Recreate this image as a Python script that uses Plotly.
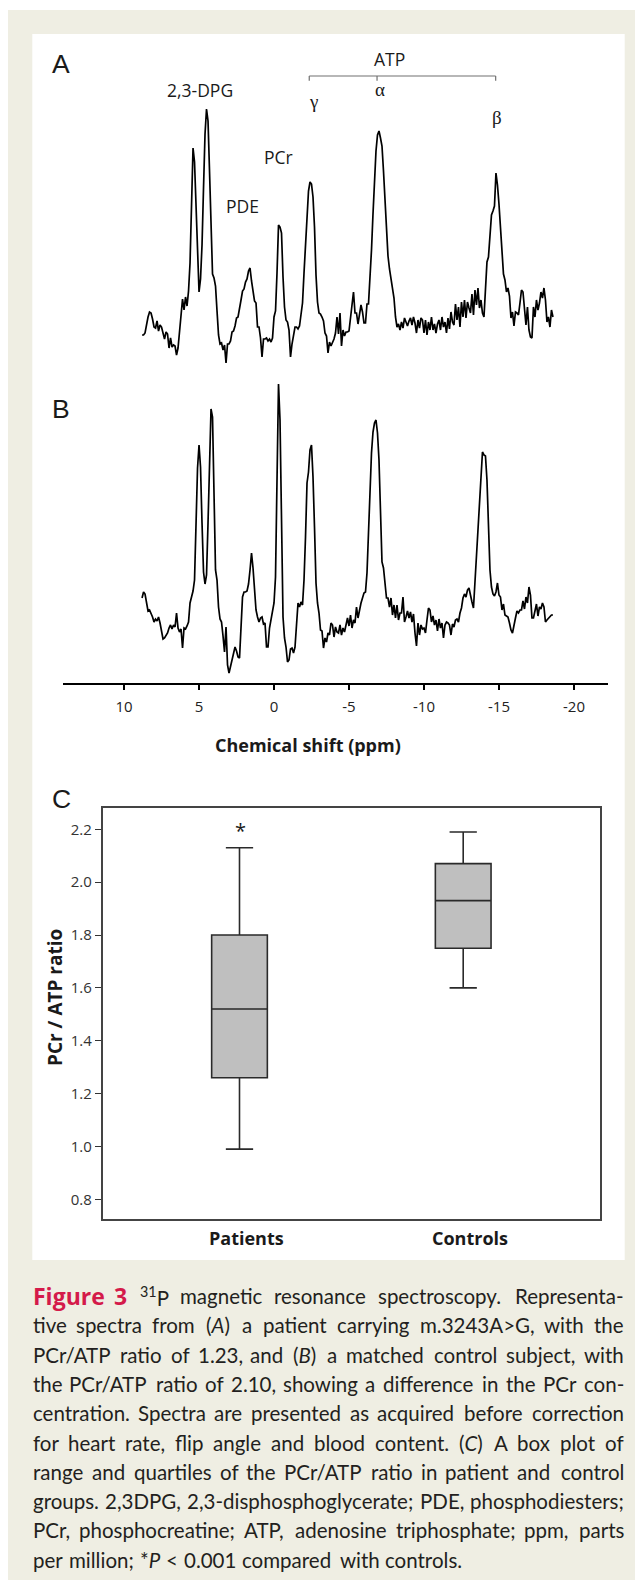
import re
import plotly.graph_objects as go

# page is drawn with an 8px body margin, so the figure is sized to fit the window
W, H = 635, 1575
OFF = 8

# ---------------- data ----------------
# chemical shift grid (ppm) shared by both spectra
ppm = [
    8.8, 8.7, 8.6, 8.5, 8.4, 8.3, 8.2, 8.1, 8.0, 7.9,
    7.8, 7.7, 7.6, 7.5, 7.4, 7.3, 7.2, 7.1, 7.0, 6.9,
    6.8, 6.7, 6.6, 6.5, 6.4, 6.3, 6.2, 6.1, 6.0, 5.9,
    5.8, 5.7, 5.6, 5.5, 5.4, 5.3, 5.2, 5.1, 5.0, 4.9,
    4.8, 4.7, 4.6, 4.5, 4.4, 4.3, 4.2, 4.1, 4.0, 3.9,
    3.8, 3.7, 3.6, 3.5, 3.4, 3.3, 3.2, 3.1, 3.0, 2.9,
    2.8, 2.7, 2.6, 2.5, 2.4, 2.3, 2.2, 2.1, 2.0, 1.9,
    1.8, 1.7, 1.6, 1.5, 1.4, 1.3, 1.2, 1.1, 1.0, 0.9,
    0.8, 0.7, 0.6, 0.5, 0.4, 0.3, 0.2, 0.1, 0.0, -0.1,
    -0.2, -0.3, -0.4, -0.5, -0.6, -0.7, -0.8, -0.9, -1.0, -1.1,
    -1.2, -1.3, -1.4, -1.5, -1.6, -1.7, -1.8, -1.9, -2.0, -2.1,
    -2.2, -2.3, -2.4, -2.5, -2.6, -2.7, -2.8, -2.9, -3.0, -3.1,
    -3.2, -3.3, -3.4, -3.5, -3.6, -3.7, -3.8, -3.9, -4.0, -4.1,
    -4.2, -4.3, -4.4, -4.5, -4.6, -4.7, -4.8, -4.9, -5.0, -5.1,
    -5.2, -5.3, -5.4, -5.5, -5.6, -5.7, -5.8, -5.9, -6.0, -6.1,
    -6.2, -6.3, -6.4, -6.5, -6.6, -6.7, -6.8, -6.9, -7.0, -7.1,
    -7.2, -7.3, -7.4, -7.5, -7.6, -7.7, -7.8, -7.9, -8.0, -8.1,
    -8.2, -8.3, -8.4, -8.5, -8.6, -8.7, -8.8, -8.9, -9.0, -9.1,
    -9.2, -9.3, -9.4, -9.5, -9.6, -9.7, -9.8, -9.9, -10.0, -10.1,
    -10.2, -10.3, -10.4, -10.5, -10.6, -10.7, -10.8, -10.9, -11.0, -11.1,
    -11.2, -11.3, -11.4, -11.5, -11.6, -11.7, -11.8, -11.9, -12.0, -12.1,
    -12.2, -12.3, -12.4, -12.5, -12.6, -12.7, -12.8, -12.9, -13.0, -13.1,
    -13.2, -13.3, -13.4, -13.5, -13.6, -13.7, -13.8, -13.9, -14.0, -14.1,
    -14.2, -14.3, -14.4, -14.5, -14.6, -14.7, -14.8, -14.9, -15.0, -15.1,
    -15.2, -15.3, -15.4, -15.5, -15.6, -15.7, -15.8, -15.9, -16.0, -16.1,
    -16.2, -16.3, -16.4, -16.5, -16.6, -16.7, -16.8, -16.9, -17.0, -17.1,
    -17.2, -17.3, -17.4, -17.5, -17.6, -17.7, -17.8, -17.9, -18.0, -18.1,
    -18.2, -18.3, -18.4, -18.5, -18.6,
]

# (A) patient spectrum, signal intensity (a.u.)
patient_signal = [
    35, 35, 37, 46, 53, 58, 57, 51, 43, 42,
    49, 39, 45, 43, 36, 31, 38, 36, 22, 32,
    23, 25, 24, 15, 22, 39, 49, 71, 60, 73,
    64, 79, 107, 160, 222, 208, 167, 110, 78, 91,
    125, 182, 236, 261, 249, 199, 137, 96, 92, 84,
    59, 35, 26, 27, 20, 25, 7, 26, 26, 29,
    38, 39, 44, 52, 53, 64, 70, 79, 81, 88,
    91, 99, 102, 89, 78, 69, 67, 43, 43, 32,
    13, 31, 31, 32, 29, 31, 28, 32, 53, 59,
    97, 145, 143, 137, 93, 63, 50, 48, 40, 13,
    26, 35, 43, 43, 41, 44, 55, 67, 97, 127,
    159, 179, 188, 186, 173, 143, 95, 68, 57, 56,
    53, 49, 37, 34, 17, 28, 24, 27, 31, 37,
    53, 36, 57, 24, 40, 34, 38, 38, 39, 52,
    67, 78, 57, 57, 46, 57, 65, 58, 47, 47,
    66, 66, 90, 120, 156, 191, 219, 235, 239, 232,
    224, 199, 170, 134, 114, 101, 92, 85, 72, 53,
    43, 46, 40, 48, 42, 52, 47, 44, 49, 52,
    45, 53, 47, 37, 50, 42, 52, 50, 37, 50,
    35, 48, 40, 53, 40, 46, 37, 46, 50, 40,
    53, 43, 48, 37, 52, 41, 58, 48, 45, 66,
    50, 63, 43, 68, 53, 70, 52, 68, 62, 57,
    76, 55, 80, 65, 82, 62, 70, 57, 53, 75,
    108, 113, 137, 155, 159, 164, 197, 185, 166, 138,
    112, 96, 90, 78, 82, 74, 52, 58, 44, 58,
    57, 55, 67, 80, 78, 62, 45, 63, 40, 33,
    32, 63, 53, 70, 60, 67, 78, 72, 82, 70,
    48, 53, 43, 60, 53,
]

# (B) control spectrum, signal intensity (a.u.)
control_signal = [
    102, 108, 106, 97, 89, 90, 87, 83, 78, 81,
    79, 83, 77, 68, 61, 62, 64, 67, 72, 75,
    71, 75, 73, 87, 72, 68, 71, 52, 72, 71,
    74, 78, 97, 102, 109, 120, 167, 232, 255, 233,
    177, 128, 116, 125, 177, 252, 291, 283, 210, 130,
    120, 93, 81, 78, 64, 48, 73, 35, 27, 34,
    41, 48, 53, 49, 43, 42, 77, 103, 108, 108,
    109, 116, 130, 147, 132, 110, 90, 83, 78, 82,
    83, 76, 77, 53, 53, 72, 82, 88, 97, 123,
    217, 316, 280, 170, 83, 62, 53, 38, 40, 51,
    52, 47, 53, 75, 97, 93, 98, 95, 120, 163,
    217, 228, 250, 255, 223, 173, 117, 97, 87, 70,
    69, 52, 62, 58, 67, 65, 77, 75, 63, 73,
    68, 67, 75, 65, 72, 68, 77, 82, 74, 85,
    72, 80, 77, 93, 82, 91, 97, 102, 107, 108,
    127, 167, 220, 247, 268, 277, 280, 267, 240, 190,
    138, 132, 117, 102, 102, 93, 102, 85, 95, 82,
    95, 80, 87, 87, 103, 78, 83, 89, 82, 88,
    78, 86, 67, 54, 77, 65, 75, 71, 72, 67,
    80, 92, 90, 78, 84, 75, 80, 69, 81, 72,
    77, 62, 75, 78, 77, 75, 65, 76, 73, 80,
    81, 78, 87, 92, 102, 106, 103, 110, 112, 103,
    98, 92, 120, 142, 170, 190, 218, 248, 245, 244,
    220, 173, 130, 113, 106, 104, 108, 117, 105, 103,
    90, 96, 85, 84, 83, 77, 70, 67, 77, 82,
    89, 87, 90, 90, 99, 91, 103, 97, 113, 105,
    82, 82, 89, 96, 84, 93, 91, 97, 93, 78,
    80, 82, 83, 85, 85,
]

shift_tick_vals = [10, 5, 0, -5, -10, -15, -20]
shift_tick_text = ["10", "5", "0", "-5", "-10", "-15", "-20"]

# (C) box plot statistics of PCr/ATP ratio
groups = ["Patients", "Controls"]
ratio_min = [0.99, 1.60]
ratio_q1 = [1.26, 1.75]
ratio_median = [1.52, 1.93]
ratio_q3 = [1.80, 2.07]
ratio_max = [2.13, 2.19]
ratio_ticks = [0.8, 1.0, 1.2, 1.4, 1.6, 1.8, 2.0, 2.2]
ratio_tick_text = ["0.8", "1.0", "1.2", "1.4", "1.6", "1.8", "2.0", "2.2"]

# peak labels for spectrum A: (text, ppm, intensity)
peak_labels = [("2,3-DPG", 4.93, 280), ("PDE", 2.07, 164), ("PCr", -0.29, 213), ("ATP", -7.67, 311)]
greek_labels = [("\u03b3", -2.65, 268), ("\u03b1", -7.05, 280), ("\u03b2", -14.88, 252)]
atp_bracket = {"left": -2.35, "mid": -6.87, "right": -14.78, "top": 294, "bottom": 289.3}

CAPTION_LEAD = ["Figure", "3"]
CAPTION_LINES = [
    "<sup>31</sup>P magnetic resonance spectroscopy. Representa-",
    "tive spectra from (<i>A</i>) a patient carrying m.3243A&gt;G, with the",
    "PCr/ATP ratio of 1.23, and (<i>B</i>) a matched control subject, with",
    "the PCr/ATP ratio of 2.10, showing a difference in the PCr con-",
    "centration. Spectra are presented as acquired before correction",
    "for heart rate, flip angle and blood content. (<i>C</i>) A box plot of",
    "range and quartiles of the PCr/ATP ratio in patient and control",
    "groups. 2,3DPG, 2,3-disphosphoglycerate; PDE, phosphodiesters;",
    "PCr, phosphocreatine; ATP, adenosine triphosphate; ppm, parts",
    "per million; *<i>P</i> &lt; 0.001 compared with controls.",
]


# ---------------- helpers (page pixel -> paper fraction) ----------------
def px(x):
    return (x - OFF) / W


def py(y):
    return 1 - (y - OFF) / H


INK = "#1a1a1a"
CAP_COLOR = "#231f20"
RED = "#d41a4a"
BEIGE = "#efeee3"

fig = go.Figure()

fig.add_trace(go.Scatter(x=ppm, y=patient_signal, mode="lines", xaxis="x", yaxis="y",
                         line=dict(color="black", width=1.7), hoverinfo="skip"))
fig.add_trace(go.Scatter(x=ppm, y=control_signal, mode="lines", xaxis="x2", yaxis="y2",
                         line=dict(color="black", width=1.7), hoverinfo="skip"))
fig.add_trace(go.Box(x=[0, 1], q1=ratio_q1, median=ratio_median, q3=ratio_q3,
                     lowerfence=ratio_min, upperfence=ratio_max,
                     xaxis="x3", yaxis="y3", fillcolor="#bfbfbf",
                     line=dict(color="#2a2a2a", width=1.6), width=0.249,
                     whiskerwidth=0.49, boxpoints=False, hoverinfo="skip"))

spec_dom = [px(63), px(608)]
spec_range = [14.07, -22.27]

layout = dict(
    width=W, height=H, margin=dict(l=0, r=0, t=0, b=0),
    paper_bgcolor="white", plot_bgcolor="rgba(0,0,0,0)", showlegend=False,
    xaxis=dict(domain=spec_dom, range=spec_range, visible=False, anchor="y"),
    yaxis=dict(domain=[py(370), py(40)], range=[0, 330], visible=False, anchor="x"),
    xaxis2=dict(domain=spec_dom, range=spec_range, anchor="y2", showline=True,
                linecolor="black", linewidth=1.5, ticks="outside", ticklen=6,
                tickwidth=1.5, tickcolor="black", tickvals=shift_tick_vals,
                ticktext=shift_tick_text, showgrid=False, zeroline=False,
                ticklabelstandoff=4,
                tickfont=dict(family="Open Sans", size=15, color="#222")),
    yaxis2=dict(domain=[py(682.7), py(380)], range=[17.3, 320], visible=False, anchor="x2"),
    xaxis3=dict(domain=[px(102.7), px(600)], range=[-0.6115, 1.6115], anchor="y3",
                showline=True, mirror=True, linecolor="#444", linewidth=1.6,
                ticks="", showticklabels=False, showgrid=False, zeroline=False),
    yaxis3=dict(domain=[py(1219.3), py(808.3)], range=[0.7243, 2.2795], anchor="x3",
                showline=True, mirror=True, linecolor="#444", linewidth=1.6,
                ticks="outside", ticklen=6, tickwidth=1.3, tickcolor="#333",
                tickvals=ratio_ticks, ticktext=ratio_tick_text, showgrid=False,
                zeroline=False, tickfont=dict(family="Open Sans", size=15, color="#333")),
)
fig.update_layout(**layout)

shapes = [
    dict(type="rect", xref="paper", yref="paper", x0=px(8), x1=1, y0=py(1580), y1=py(10),
         fillcolor=BEIGE, line=dict(width=0), layer="below"),
    dict(type="rect", xref="paper", yref="paper", x0=px(32.3), x1=px(624.7), y0=py(1260), y1=py(34),
         fillcolor="white", line=dict(width=0), layer="below"),
]
br = atp_bracket
bracket_line = dict(color="#707070", width=1.2)
shapes.append(dict(type="line", xref="x", yref="y", x0=br["left"], x1=br["right"],
                   y0=br["top"], y1=br["top"], line=bracket_line))
for key in ("left", "mid", "right"):
    shapes.append(dict(type="line", xref="x", yref="y", x0=br[key], x1=br[key],
                       y0=br["top"], y1=br["bottom"], line=bracket_line))

C = dict(xanchor="center", yanchor="middle", showarrow=False)
ann = []
for lab, yy in (("A", 64), ("B", 409), ("C", 799)):
    ann.append(dict(text=lab, xref="paper", yref="paper", x=px(61), y=py(yy),
                    font=dict(family="Liberation Sans, Arial", size=26.5, color=INK), **C))
for t, xv, yv in peak_labels:
    ann.append(dict(text=t, xref="x", yref="y", x=xv, y=yv,
                    font=dict(family="Open Sans", size=17.5, color=INK), **C))
for t, xv, yv in greek_labels:
    ann.append(dict(text=t, xref="x", yref="y", x=xv, y=yv,
                    font=dict(family="Liberation Serif, DejaVu Serif", size=19, color=INK), **C))
ann.append(dict(text="<b>Chemical shift (ppm)</b>", xref="paper", yref="paper",
                x=px(307.5), y=py(745),
                font=dict(family="Open Sans", size=18, color=INK), **C))
ann.append(dict(text="<b>PCr / ATP ratio</b>", xref="paper", yref="paper",
                x=px(55), y=py(998), textangle=-90,
                font=dict(family="Open Sans", size=19, color=INK), **C))
for i, g in enumerate(groups):
    ann.append(dict(text="<b>%s</b>" % g, xref="x3", yref="paper", x=i, xshift=6.5,
                    y=py(1238.3), font=dict(family="Open Sans", size=18, color=INK), **C))
ann.append(dict(text="*", xref="x3", yref="y3", x=0, xshift=1, y=2.195,
                font=dict(family="Open Sans", size=20, color=INK), **C))

# ---- caption, justified word by word ----
CW = {}
for ch, w in zip("abcdefghijklmnopqrstuvwxyz",
                 [.52, .57, .47, .57, .53, .33, .51, .57, .24, .24, .51, .24, .86,
                  .57, .57, .57, .57, .37, .43, .35, .57, .51, .78, .50, .51, .46]):
    CW[ch] = w
for ch, w in zip("ABCDEFGHIJKLMNOPQRSTUVWXYZ",
                 [.68, .64, .67, .74, .55, .53, .73, .75, .27, .40, .65, .49, .90,
                  .75, .80, .60, .80, .63, .53, .58, .73, .67, 1.0, .65, .62, .60]):
    CW[ch] = w
for ch in "0123456789":
    CW[ch] = .58
CW.update({".": .21, ",": .21, ";": .22, ":": .22, "/": .37, "(": .30, ")": .30,
           "-": .35, "*": .40, "<": .58, ">": .58})


def text_width(markup, size, factor=1.0):
    w = 0.0
    for part in re.split(r"(<sup>.*?</sup>)", markup):
        sc = 0.7 if part.startswith("<sup>") else 1.0
        plain = re.sub(r"<[^>]+>", "", part).replace("&lt;", "<").replace("&gt;", ">")
        for ch in plain:
            w += CW.get(ch, 0.55) * size * sc
    return w * factor


CAP_SIZE = 20.5
LEAD_SIZE = 23
LEFT, RIGHT = 32.5, 623.7
LINE_Y0, LINE_DY = 1296, 29.3
n_lines = len(CAPTION_LINES)
for i, line in enumerate(CAPTION_LINES):
    words = [(w, "n") for w in line.split(" ")]
    if i == 0:
        words = [(w, "r") for w in CAPTION_LEAD] + words
    widths = [text_width(w, LEAD_SIZE, 1.12) if s == "r" else text_width(w, CAP_SIZE)
              for w, s in words]
    justify = i < n_lines - 1
    gap = (RIGHT - LEFT - sum(widths)) / (len(words) - 1) if justify else 6.0
    x = LEFT
    for j, ((w, s), wd) in enumerate(zip(words, widths)):
        last = justify and j == len(words) - 1
        if s == "r":
            font = dict(family="Open Sans", size=LEAD_SIZE, color=RED)
            txt = "<b>%s</b>" % w
        else:
            font = dict(family="Lato", size=CAP_SIZE, color=CAP_COLOR)
            txt = w
        ann.append(dict(text=txt, xref="paper", yref="paper",
                        x=px(RIGHT if last else x), xanchor="right" if last else "left",
                        y=py(LINE_Y0 + i * LINE_DY), yanchor="middle",
                        showarrow=False, borderpad=0, borderwidth=0, font=font))
        x += wd + gap

fig.update_layout(shapes=shapes, annotations=ann)
fig.write_html("out.html")
